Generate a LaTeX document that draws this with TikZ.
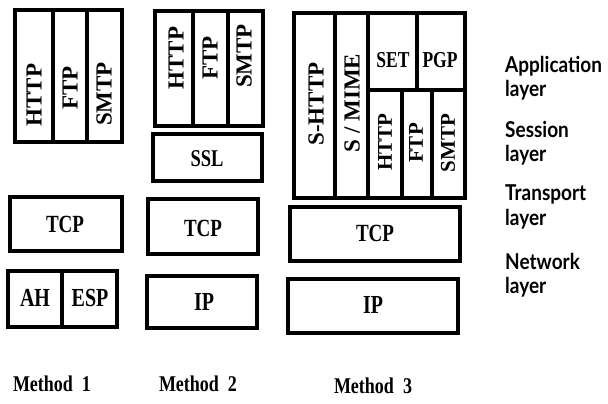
\documentclass[tikz,border=0pt]{standalone}
\usepackage{fontspec}
\setmainfont{Liberation Serif}
\newfontfamily\labfont{Lato}
\begin{document}
\begin{tikzpicture}[x=1pt,y=-1pt,
  cell/.style={draw=black,line width=3.5pt,fill=white},
  htxt/.style={font=\fontsize{19}{19}\selectfont\bfseries,inner sep=0pt,yscale=1.3,transform shape},
  vtxt/.style={font=\fontsize{23}{23}\selectfont\bfseries,rotate=90,inner sep=0pt},
  mtxt/.style={font=\fontsize{18}{18}\selectfont\bfseries,inner sep=0pt,yscale=1.25,transform shape},
  ltxt/.style={font=\labfont\fontsize{19}{21}\selectfont\bfseries,align=left,anchor=west,inner sep=0pt,yscale=1.15,transform shape}]
\useasboundingbox (0,0) rectangle (608,404);
% Method 1
\draw[cell] (15,10) rectangle (53,142);
\draw[cell] (53,10) rectangle (87,142);
\draw[cell] (87,10) rectangle (122,142);
\node[vtxt] (m1http) at (34,95) {HTTP};
\node[vtxt] (m1ftp) at (70,88) {FTP};
\node[vtxt] (m1smtp) at (104,94) {SMTP};
\draw[cell] (10,197) rectangle (122,251);
\node[htxt] (m1tcp) at (65,224) {TCP};
\draw[cell] (8,271) rectangle (62,327);
\draw[cell] (62,271) rectangle (117,327);
\node[htxt,font=\fontsize{20}{20}\selectfont\bfseries] (m1ah) at (35,298) {AH};
\node[htxt,font=\fontsize{20}{20}\selectfont\bfseries] (m1esp) at (90,298) {ESP};
% Method 2
\draw[cell] (155,11) rectangle (193,126);
\draw[cell] (193,11) rectangle (228,126);
\draw[cell] (228,11) rectangle (263,126);
\node[vtxt] (m2http) at (176,58) {HTTP};
\node[vtxt] (m2ftp) at (210,58) {FTP};
\node[vtxt] (m2smtp) at (244,56) {SMTP};
\draw[cell] (153,134) rectangle (262,181);
\node[htxt,font=\fontsize{18.5}{18.5}\selectfont\bfseries] (m2ssl) at (207,159) {SSL};
\draw[cell] (148,199) rectangle (258,254);
\node[htxt] (m2tcp) at (203,228) {TCP};
\draw[cell] (147,276) rectangle (257,328);
\node[htxt,font=\fontsize{20}{20}\selectfont\bfseries] (m2ip) at (204,302) {IP};
% Method 3
\draw[cell] (294,13) rectangle (335,198);
\draw[cell] (335,13) rectangle (368,198);
\draw[cell] (368,13) rectangle (417,90);
\draw[cell] (417,13) rectangle (465,90);
\draw[cell] (368,90) rectangle (402,198);
\draw[cell] (402,90) rectangle (432,198);
\draw[cell] (432,90) rectangle (465,198);
\node[vtxt] (m3shttp) at (316,104) {S-HTTP};
\node[vtxt] (m3smime) at (352,103) {S / MIME};
\node[htxt,font=\fontsize{17.5}{17.5}\selectfont\bfseries] (m3set) at (393,60) {SET};
\node[htxt,font=\fontsize{17.5}{17.5}\selectfont\bfseries] (m3pgp) at (440,60) {PGP};
\node[vtxt,font=\fontsize{21}{21}\selectfont\bfseries] (m3http) at (385,142) {HTTP};
\node[vtxt,font=\fontsize{21}{21}\selectfont\bfseries] (m3ftp) at (416,143) {FTP};
\node[vtxt,font=\fontsize{21}{21}\selectfont\bfseries] (m3smtp) at (448,143) {SMTP};
\draw[cell] (290,207) rectangle (460,261);
\node[htxt] (m3tcp) at (375,233) {TCP};
\draw[cell] (288,279) rectangle (458,333);
\node[htxt,font=\fontsize{20}{20}\selectfont\bfseries] (m3ip) at (373,305) {IP};
% Method labels
\node[mtxt] (meth1) at (52,384) {Method\hspace{0.5em}1};
\node[mtxt] (meth2) at (198,384) {Method\hspace{0.5em}2};
\node[mtxt] (meth3) at (373,386) {Method\hspace{0.5em}3};
% Layer labels
\node[ltxt] (lapp) at (505,78) {Application\\layer};
\node[ltxt] (lses) at (505,143) {Session\\layer};
\node[ltxt] (ltra) at (505,207) {Transport\\layer};
\node[ltxt] (lnet) at (505,275) {Network\\layer};
\end{tikzpicture}
\end{document}
